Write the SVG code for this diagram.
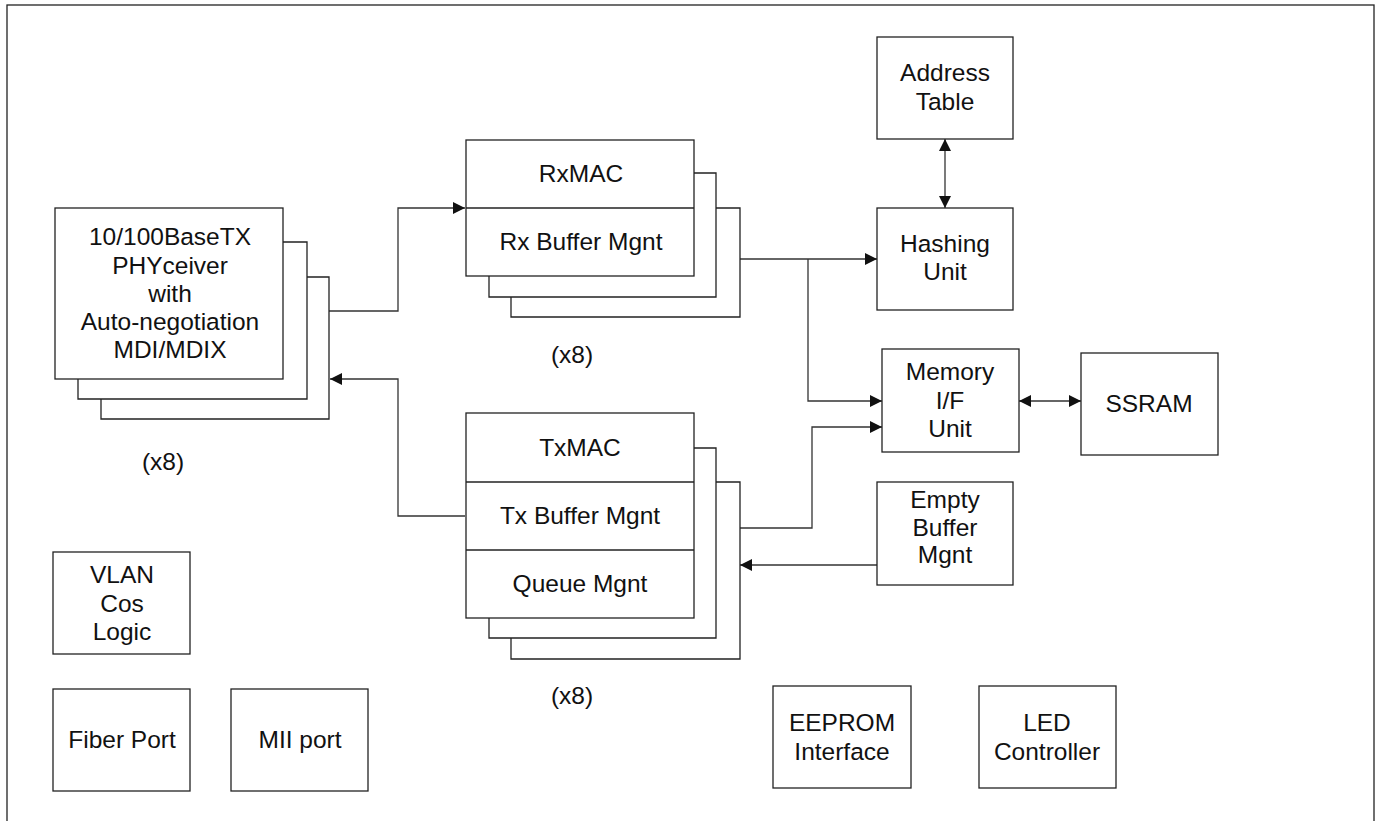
<svg xmlns="http://www.w3.org/2000/svg" width="1377" height="821" viewBox="0 0 1377 821">
<style>
.b{fill:#fff;stroke:#222;stroke-width:1.3}
.s{fill:none;stroke:#222;stroke-width:1.3}
.c{fill:none;stroke:#333;stroke-width:1.3}
text{font-family:"Liberation Sans",Arial,sans-serif;font-size:24.5px;fill:#111;text-anchor:middle}
</style>
<defs>
<marker id="ae" markerUnits="userSpaceOnUse" markerWidth="14" markerHeight="12" refX="12" refY="6" orient="auto"><path d="M0,0 L12,6 L0,12 Z" fill="#111"/></marker>
<marker id="as" markerUnits="userSpaceOnUse" markerWidth="14" markerHeight="12" refX="0" refY="6" orient="auto"><path d="M12,0 L0,6 L12,12 Z" fill="#111"/></marker>
</defs>
<rect x="7" y="5" width="1367" height="830" fill="#fff" stroke="#222" stroke-width="1.3"/>

<g id="connectors">
<path class="c" d="M329,311 H398 V208 H465" marker-end="url(#ae)"/>
<path class="c" d="M465,516 H398 V379 H330" marker-end="url(#ae)"/>
<path class="c" d="M740,259 H877" marker-end="url(#ae)"/>
<path class="c" d="M808,259 V401 H882" marker-end="url(#ae)"/>
<path class="c" d="M740,528 H812 V427 H882" marker-end="url(#ae)"/>
<path class="c" d="M877,565 H740" marker-end="url(#ae)"/>
<path class="c" d="M945,139 V208" marker-start="url(#as)" marker-end="url(#ae)"/>
<path class="c" d="M1019,401 H1081" marker-start="url(#as)" marker-end="url(#ae)"/>
</g>

<g id="phy">
<polyline class="s" points="307,277 329,277 329,419 101,419 101,399"/>
<polyline class="s" points="283,242 307,242 307,399 78,399 78,379"/>
<rect class="b" x="55" y="208" width="228" height="171"/>
<text x="170" y="245">10/100BaseTX</text>
<text x="170" y="274">PHYceiver</text>
<text x="170" y="302">with</text>
<text x="170" y="330">Auto-negotiation</text>
<text x="170" y="358">MDI/MDIX</text>
<text x="163" y="470">(x8)</text>
</g>

<g id="rxmac">
<polyline class="s" points="716,208 740,208 740,317 511,317 511,297"/>
<polyline class="s" points="694,173 716,173 716,297 489,297 489,276"/>
<rect class="b" x="466" y="140" width="228" height="136"/>
<line class="s" x1="466" y1="208" x2="694" y2="208"/>
<text x="581" y="182">RxMAC</text>
<text x="581" y="250">Rx Buffer Mgnt</text>
<text x="572" y="363">(x8)</text>
</g>

<g id="txmac">
<polyline class="s" points="716,482 740,482 740,659 511,659 511,638"/>
<polyline class="s" points="694,448 716,448 716,638 489,638 489,618"/>
<rect class="b" x="466" y="413" width="228" height="205"/>
<line class="s" x1="466" y1="482" x2="694" y2="482"/>
<line class="s" x1="466" y1="550" x2="694" y2="550"/>
<text x="580" y="456">TxMAC</text>
<text x="580" y="524">Tx Buffer Mgnt</text>
<text x="580" y="592">Queue Mgnt</text>
<text x="572" y="704">(x8)</text>
</g>

<g id="address-table">
<rect class="b" x="877" y="37" width="136" height="102"/>
<text x="945" y="81">Address</text>
<text x="945" y="110">Table</text>
</g>

<g id="hashing-unit">
<rect class="b" x="877" y="208" width="136" height="102"/>
<text x="945" y="252">Hashing</text>
<text x="945" y="280">Unit</text>
</g>

<g id="memory-if">
<rect class="b" x="882" y="349" width="137" height="103"/>
<text x="950" y="380">Memory</text>
<text x="950" y="409">I/F</text>
<text x="950" y="437">Unit</text>
</g>

<g id="ssram">
<rect class="b" x="1081" y="353" width="137" height="102"/>
<text x="1149" y="412">SSRAM</text>
</g>

<g id="empty-buffer">
<rect class="b" x="877" y="482" width="136" height="103"/>
<text x="945" y="508">Empty</text>
<text x="945" y="536">Buffer</text>
<text x="945" y="563">Mgnt</text>
</g>

<g id="vlan">
<rect class="b" x="53" y="552" width="137" height="102"/>
<text x="122" y="583">VLAN</text>
<text x="122" y="612">Cos</text>
<text x="122" y="640">Logic</text>
</g>

<g id="fiber-port">
<rect class="b" x="53" y="689" width="137" height="102"/>
<text x="122" y="748">Fiber Port</text>
</g>

<g id="mii-port">
<rect class="b" x="231" y="689" width="137" height="102"/>
<text x="300" y="748">MII port</text>
</g>

<g id="eeprom">
<rect class="b" x="773" y="686" width="138" height="102"/>
<text x="842" y="731">EEPROM</text>
<text x="842" y="760">Interface</text>
</g>

<g id="led">
<rect class="b" x="979" y="686" width="137" height="102"/>
<text x="1047" y="731">LED</text>
<text x="1047" y="760">Controller</text>
</g>
</svg>
